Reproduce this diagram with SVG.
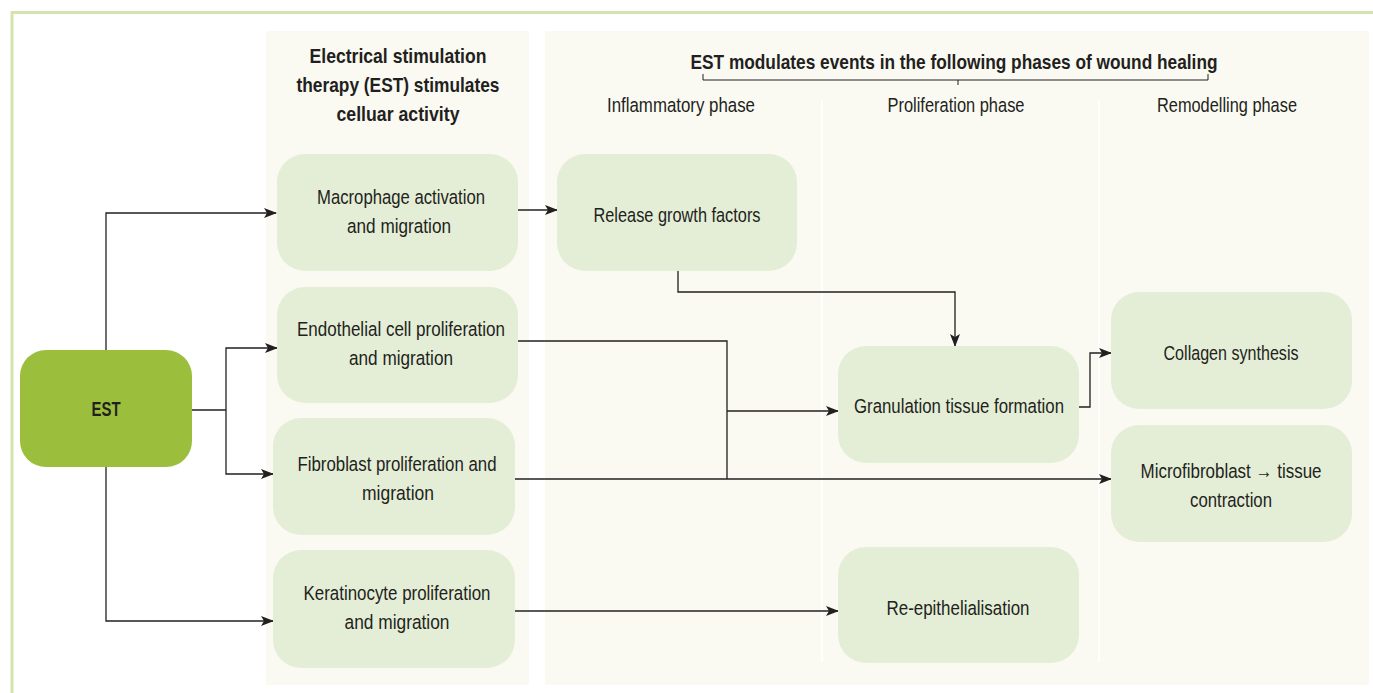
<svg xmlns="http://www.w3.org/2000/svg" width="1373" height="693" viewBox="0 0 1373 693">
<defs>
<marker id="arr" markerWidth="13" markerHeight="10" refX="12" refY="5" orient="auto" markerUnits="userSpaceOnUse">
<path d="M0,0 L13,5 L0,10 L3,5 Z" fill="#231f20"/>
</marker>
<style>
.t{font-family:"Liberation Sans",Arial,sans-serif;font-size:20.5px;fill:#231f20;text-anchor:middle}
.b{font-weight:bold}
.node{fill:#e4eed6}
.panel{fill:#fafaf3}
.c{fill:none;stroke:#231f20;stroke-width:1.3}
</style>
</defs>
<rect width="1373" height="693" fill="#ffffff"/>
<path d="M12,693 V12.5 H1373" fill="none" stroke="#d4e4b0" stroke-width="3"/>
<rect class="panel" x="266" y="31" width="263" height="654"/>
<rect class="panel" x="545" y="31" width="824" height="654"/>
<line x1="822" y1="100" x2="822" y2="662" stroke="#ffffff" stroke-width="2"/>
<line x1="1099" y1="100" x2="1099" y2="662" stroke="#ffffff" stroke-width="2"/>

<g id="header-left">
<text class="t b" x="398" y="63" textLength="177" lengthAdjust="spacingAndGlyphs">Electrical stimulation</text>
<text class="t b" x="398" y="92" textLength="203" lengthAdjust="spacingAndGlyphs">therapy (EST) stimulates</text>
<text class="t b" x="398" y="121" textLength="123" lengthAdjust="spacingAndGlyphs">celluar activity</text>
</g>
<g id="header-right">
<text class="t b" x="954" y="69" textLength="527" lengthAdjust="spacingAndGlyphs">EST modulates events in the following phases of wound healing</text>
<path d="M703,74 V80 H1208 V74 M958,80 V85" fill="none" stroke="#231f20" stroke-width="1"/>
<text class="t" x="681" y="112" textLength="148" lengthAdjust="spacingAndGlyphs">Inflammatory phase</text>
<text class="t" x="956" y="112" textLength="137" lengthAdjust="spacingAndGlyphs">Proliferation phase</text>
<text class="t" x="1227" y="112" textLength="140" lengthAdjust="spacingAndGlyphs">Remodelling phase</text>
</g>

<g id="connectors">
<polyline class="c" points="106,350 106,213 276,213" marker-end="url(#arr)"/>
<polyline class="c" points="106,467 106,621 273,621" marker-end="url(#arr)"/>
<polyline class="c" points="192,410 226,410"/>
<polyline class="c" points="226,410 226,348 277,348" marker-end="url(#arr)"/>
<polyline class="c" points="226,410 226,474 273,474" marker-end="url(#arr)"/>
<polyline class="c" points="518,210 557,210" marker-end="url(#arr)"/>
<polyline class="c" points="678,271 678,292 955,292 955,346" marker-end="url(#arr)"/>
<polyline class="c" points="518,341 727,341 727,479"/>
<polyline class="c" points="515,479 1111,479" marker-end="url(#arr)"/>
<polyline class="c" points="727,411 838,411" marker-end="url(#arr)"/>
<polyline class="c" points="1079,407 1090,407 1090,353 1111,353" marker-end="url(#arr)"/>
<polyline class="c" points="515,611 838,611" marker-end="url(#arr)"/>
</g>

<g id="est">
<rect x="20" y="350" width="172" height="117" rx="26" fill="#9bbf3d"/>
<text class="t b" x="106" y="416" textLength="29" lengthAdjust="spacingAndGlyphs">EST</text>
</g>
<g id="macrophage">
<rect class="node" x="277" y="154" width="241" height="117" rx="28"/>
<text class="t" x="401" y="204" textLength="168" lengthAdjust="spacingAndGlyphs">Macrophage activation</text>
<text class="t" x="399" y="233" textLength="104" lengthAdjust="spacingAndGlyphs">and migration</text>
</g>
<g id="endothelial">
<rect class="node" x="277" y="287" width="241" height="116" rx="28"/>
<text class="t" x="401" y="336" textLength="208" lengthAdjust="spacingAndGlyphs">Endothelial cell proliferation</text>
<text class="t" x="401" y="365" textLength="104" lengthAdjust="spacingAndGlyphs">and migration</text>
</g>
<g id="fibroblast">
<rect class="node" x="273" y="418" width="242" height="117" rx="28"/>
<text class="t" x="397" y="471" textLength="199" lengthAdjust="spacingAndGlyphs">Fibroblast proliferation and</text>
<text class="t" x="398" y="500" textLength="72" lengthAdjust="spacingAndGlyphs">migration</text>
</g>
<g id="keratinocyte">
<rect class="node" x="273" y="550" width="242" height="118" rx="28"/>
<text class="t" x="397" y="600" textLength="187" lengthAdjust="spacingAndGlyphs">Keratinocyte proliferation</text>
<text class="t" x="397" y="629" textLength="105" lengthAdjust="spacingAndGlyphs">and migration</text>
</g>
<g id="release">
<rect class="node" x="557" y="154" width="240" height="117" rx="28"/>
<text class="t" x="677" y="222" textLength="167" lengthAdjust="spacingAndGlyphs">Release growth factors</text>
</g>
<g id="granulation">
<rect class="node" x="838" y="346" width="241" height="117" rx="28"/>
<text class="t" x="959" y="413" textLength="210" lengthAdjust="spacingAndGlyphs">Granulation tissue formation</text>
</g>
<g id="reepithelialisation">
<rect class="node" x="838" y="547" width="241" height="116" rx="28"/>
<text class="t" x="958" y="615" textLength="143" lengthAdjust="spacingAndGlyphs">Re-epithelialisation</text>
</g>
<g id="collagen">
<rect class="node" x="1111" y="292" width="241" height="117" rx="28"/>
<text class="t" x="1231" y="360" textLength="135" lengthAdjust="spacingAndGlyphs">Collagen synthesis</text>
</g>
<g id="microfibroblast">
<rect class="node" x="1111" y="425" width="241" height="117" rx="28"/>
<text class="t" x="1231" y="478" textLength="181" lengthAdjust="spacingAndGlyphs">Microfibroblast → tissue</text>
<text class="t" x="1231" y="507" textLength="82" lengthAdjust="spacingAndGlyphs">contraction</text>
</g>
</svg>
